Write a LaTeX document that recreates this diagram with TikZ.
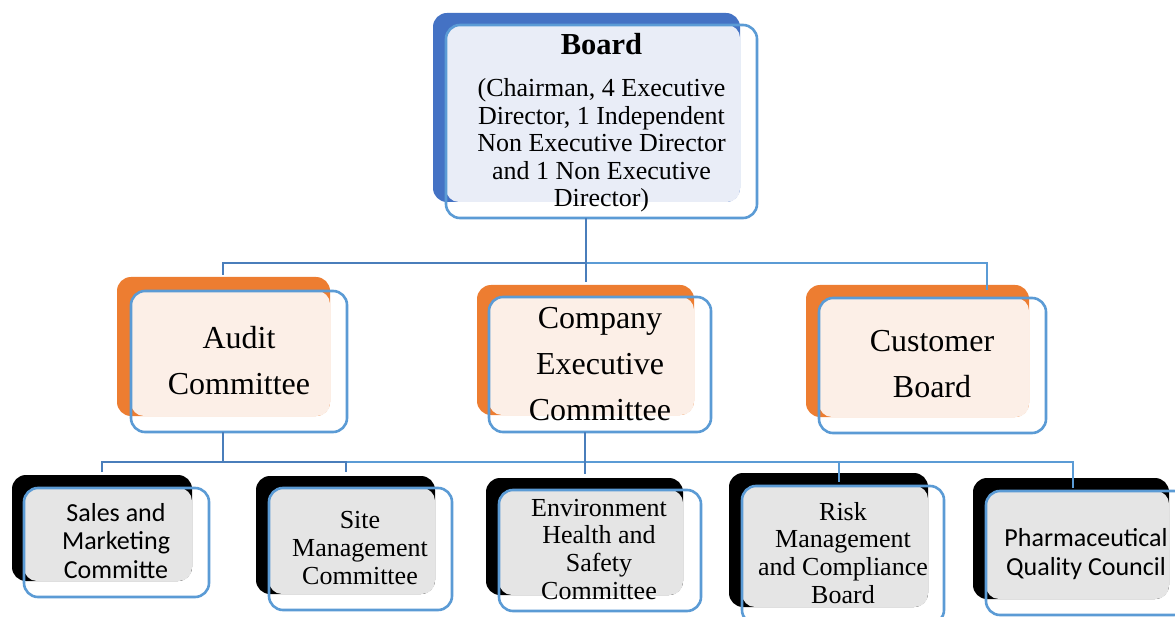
\documentclass[tikz,border=0pt]{standalone}
\usepackage{fontspec}
\setmainfont{Liberation Serif}
\newfontfamily\calibri{Carlito}
\usetikzlibrary{fit}
\definecolor{boardblue}{HTML}{4472C4}
\definecolor{boardlight}{RGB}{233,237,247}
\definecolor{orgorange}{HTML}{ED7D31}
\definecolor{peach}{RGB}{252,239,231}
\definecolor{greyfill}{RGB}{229,229,229}
\definecolor{outlineblue}{HTML}{5B9BD5}
\definecolor{conndark}{HTML}{4A7EBB}
\newcommand\stackl[1]{\begin{tabular}[b]{@{}c@{}}#1\end{tabular}}
% #1 name, #2 back colour, #3 light colour, #4 back NW, #5 back SE, #6 front NW, #7 front SE
\newcommand\chartbox[7]{%
  \fill[#2, rounded corners=14pt] (#4) rectangle (#5);
  \fill[#3, rounded corners=13pt] (#6) rectangle (#5);
  \node[frontbox, fit={(#6)(#7)}] (#1) {};
}
\tikzset{
  frontbox/.style={draw=outlineblue, line width=2.6pt, rounded corners=14pt, inner sep=0pt},
  lbl/.style={inner sep=0pt, anchor=base},
  serifsmall/.style={font=\fontsize{26}{27.6}\selectfont},
  serifbig/.style={font=\fontsize{32}{46}\selectfont},
  sanssmall/.style={font=\calibri\fontsize{26}{28.5}\selectfont},
  conn/.style={draw=conndark, line width=2.6pt},
  connthin/.style={draw=outlineblue, line width=1.5pt},
}
\begin{document}
\begin{tikzpicture}[x=1pt, y=-1pt]
\useasboundingbox[fill=white] (0,0) rectangle (1175,617);

% level 0
\chartbox{board}{boardblue}{boardlight}{433,13}{740,202}{446,25}{757,218}
\node[lbl, font=\fontsize{30.5}{32}\selectfont\bfseries] (boardT) at (601.5,55) {Board};
\node[lbl, serifsmall] (boardS) at (601.5,207) {\stackl{(Chairman, 4 Executive\\Director, 1 Independent\\Non Executive Director\\and 1 Non Executive\\Director)}};

% level 1
\chartbox{audit}{orgorange}{peach}{117,277}{330,416}{131,291}{347,432}
\node[lbl, serifbig] (auditT) at (239,394) {\stackl{Audit\\Committee}};
\chartbox{company}{orgorange}{peach}{477,285}{694,415}{489,297}{711,432}
\node[lbl, serifbig] (companyT) at (600,420) {\stackl{Company\\Executive\\Committee}};
\chartbox{customer}{orgorange}{peach}{806,285}{1029,417}{819,298}{1046,433}
\node[lbl, serifbig] (customerT) at (932,397) {\stackl{Customer\\Board}};

% level 2
\chartbox{sales}{black}{greyfill}{12,475}{192,581}{24,488}{209,597}
\node[lbl, sanssmall] (salesT) at (116,578) {\stackl{Sales and\\Marketing\\Committe}};
\chartbox{site}{black}{greyfill}{256,476}{435,594}{269,488}{452,610}
\node[lbl, serifsmall] (siteT) at (360,584) {\stackl{Site\\Management\\Committee}};
\chartbox{env}{black}{greyfill}{486,478}{683,595}{499,490}{701,611}
\node[lbl, serifsmall] (envT) at (599,599) {\stackl{Environment\\Health and\\Safety\\Committee}};
\chartbox{risk}{black}{greyfill}{729,473}{928,607}{742,486}{944,624}
\node[lbl, serifsmall] (riskT) at (843,603) {\stackl{Risk\\Management\\and Compliance\\Board}};
\chartbox{pharma}{black}{greyfill}{973,478}{1169,599}{986,491}{1188,615}
\node[lbl, sanssmall] (pharmaT) at (1086,575) {\stackl{Pharmaceutical\\Quality Council}};

% connectors, upper
\coordinate (boardOut) at (586,218);
\coordinate (busTop) at (586,263);
\coordinate (auditIn) at (223,275);
\coordinate (companyIn) at (586,282);
\coordinate (customerIn) at (987,290);
\draw[connthin] (busTop) -| (customerIn);
\draw[conn] (boardOut) -- (busTop);
\draw[conn] (busTop) -| (auditIn);
\draw[conn] (busTop) -- (companyIn);

% connectors, lower
\coordinate (auditOut) at (223,432);
\coordinate (busLow) at (223,462);
\coordinate (salesIn) at (102,472);
\coordinate (siteIn) at (346,472);
\coordinate (companyOut) at (585,432);
\coordinate (envIn) at (585,474);
\coordinate (riskIn) at (839,482);
\coordinate (pharmaIn) at (1073,488);
\draw[connthin] (siteIn |- busLow) -| (pharmaIn);
\draw[connthin] (riskIn |- busLow) -- (riskIn);
\draw[conn] (auditOut) -- (busLow);
\draw[conn] (salesIn) |- (busLow) -| (siteIn);
\draw[conn] (companyOut) -- (envIn);
\end{tikzpicture}
\end{document}
